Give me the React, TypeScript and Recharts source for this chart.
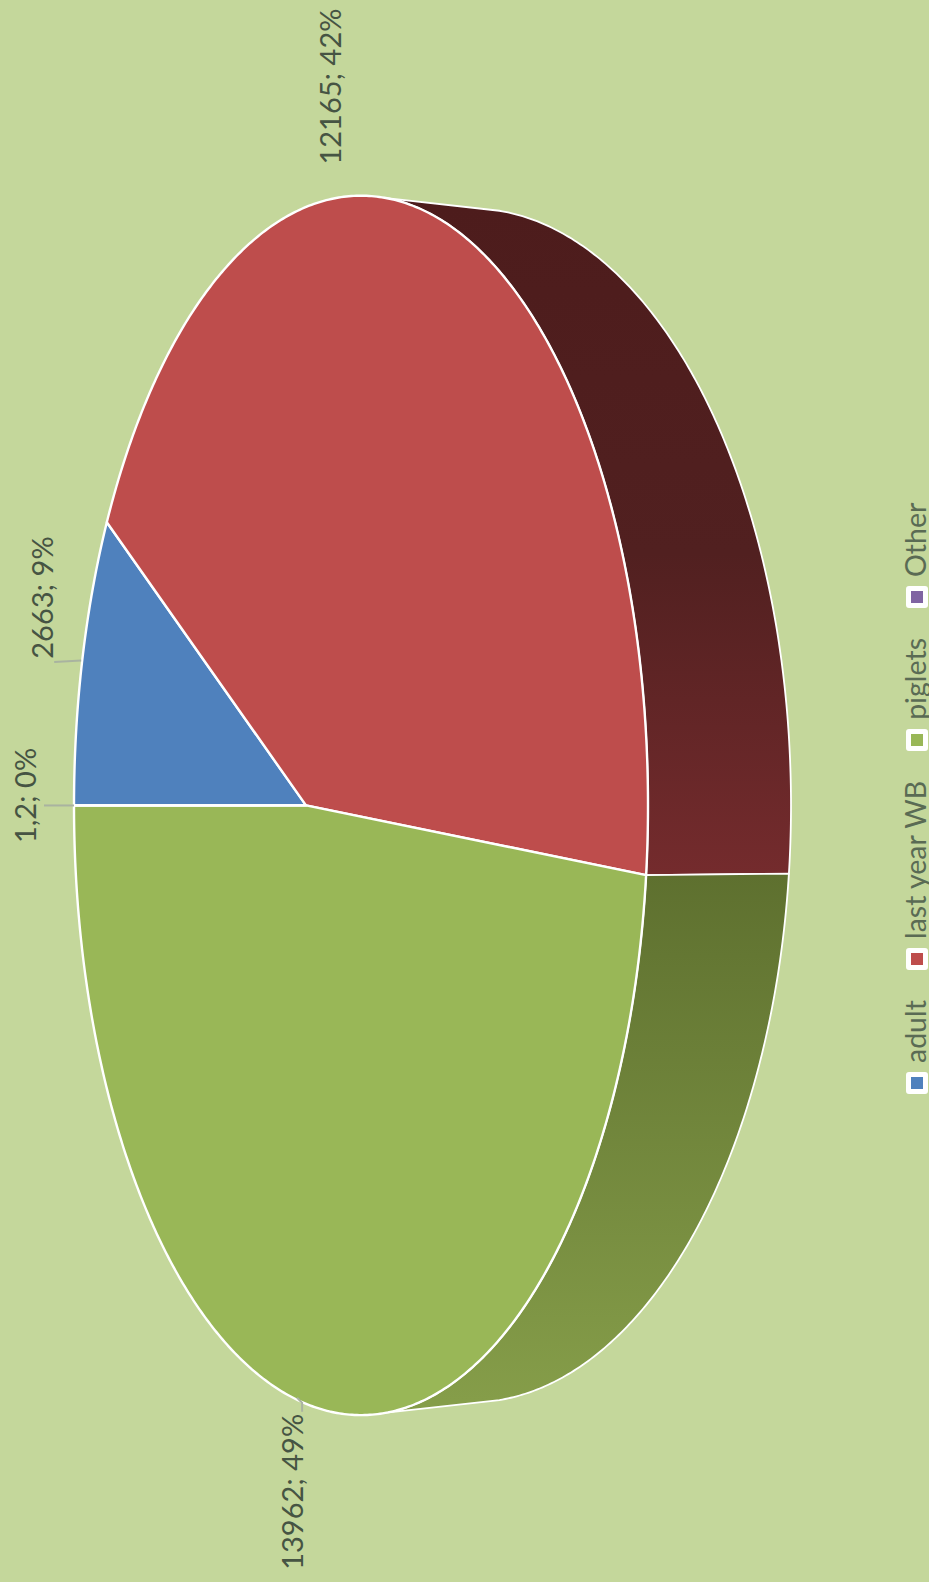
import React from 'react';
import { PieChart, Pie, Legend } from 'recharts';

// ---- data ----
const categories = ['adult', 'last year WB', 'piglets', 'Other'];
const values = [2663, 12165, 13962, 1.2];
const sliceLabels = ['2663; 9%', '12165; 42%', '13962; 49%', '1,2; 0%'];
const topColors = ['#4f81bd', '#be4d4c', '#99b757', '#8064a2'];
const sideFills = ['#4f81bd', 'url(#sideRed)', 'url(#sideGreen)', '#8064a2'];

const topRows = categories.map((name, i) => ({ name, value: values[i], fill: topColors[i] }));
const sideRows = categories.map((name, i) => ({ name, value: values[i], fill: sideFills[i] }));

// ---- layout: label offsets from each slice's rim point (px) ----
const labelOffsets = [
  { dx: -29, dy: -63, line: [[-1, 0], [-28, 1.5]] },
  { dx: -63, dy: -116, line: [] },
  { dx: 10, dy: 94, line: [[4, 0], [9, 5], [9, 14]] },
  { dx: -38, dy: -10, line: [[0, 0], [-30, 0]] },
];

const W = 929;
const H = 1582;
const TOP = { cx: 361, cy: 805.4, rx: 287, ry: 609.7 };
const BACK = { cx: 471, cy: 805.4, rx: 320, ry: 597 };
const PERSPECTIVE = -0.1916;
const SIDE_LIMIT = 74; // degrees: silhouette of the cylinder

// Projects a pie angle (recharts degrees) onto an ellipse, keeping the perspective of the tilted disc.
function project(angle: number, e: typeof TOP) {
  const rad = (angle * Math.PI) / 180;
  const u = Math.cos(rad);
  const v = -Math.sin(rad);
  const p = PERSPECTIVE;
  const d = 1 + p * u;
  return {
    x: e.cx + (e.rx * (u + p)) / d,
    y: e.cy + (e.ry * v * Math.sqrt(1 - p * p)) / d,
  };
}

function arc(start: number, end: number, e: typeof TOP) {
  const n = Math.max(1, Math.ceil(Math.abs(end - start) * 2));
  const pts: { x: number; y: number }[] = [];
  for (let i = 0; i <= n; i++) pts.push(project(start + ((end - start) * i) / n, e));
  return pts;
}

const toPath = (pts: { x: number; y: number }[]) =>
  pts.map((p, i) => `${i ? 'L' : 'M'}${p.x.toFixed(2)},${p.y.toFixed(2)}`).join(' ');

function TopSlice(props: any) {
  const { startAngle, endAngle, fill } = props;
  const centre = { x: TOP.cx + TOP.rx * PERSPECTIVE, y: TOP.cy };
  const d = `${toPath([centre, ...arc(startAngle, endAngle, TOP)])} Z`;
  return <path d={d} fill={fill} stroke="#ffffff" strokeWidth={2.4} strokeLinejoin="round" />;
}

function SideSlice(props: any) {
  const { startAngle, endAngle, fill } = props;
  const s = Math.min(startAngle, SIDE_LIMIT);
  const e = Math.max(endAngle, -SIDE_LIMIT);
  if (s <= e) return <g />;
  const d = `${toPath([...arc(s, e, TOP), ...arc(e, s, BACK)])} Z`;
  return <path d={d} fill={fill} stroke="#ffffff" strokeWidth={1.8} strokeLinejoin="round" />;
}

function SliceLabel(props: any) {
  const { midAngle, index } = props;
  const a = project(midAngle, TOP);
  const o = labelOffsets[index];
  const x = a.x + o.dx;
  const y = a.y + o.dy;
  return (
    <g>
      {o.line.length > 0 && (
        <polyline
          points={o.line.map(([lx, ly]) => `${a.x + lx},${a.y + ly}`).join(' ')}
          fill="none"
          stroke="#a9b3a0"
          strokeWidth={2}
        />
      )}
      <text
        x={x}
        y={y}
        textAnchor="middle"
        transform={`rotate(-90 ${x} ${y})`}
        fontFamily="Lato, sans-serif"
        fontSize={29}
        fill="#465443"
      >
        {sliceLabels[index]}
      </text>
    </g>
  );
}

function RotatedLegend(props: any) {
  const { payload = [] } = props;
  const rows = categories.map((name, i) => {
    const hit = payload.find((p: any) => p.value === name && !String(p.color).startsWith('url'));
    return { value: name, color: hit ? hit.color : topColors[i] };
  });
  return (
    <div
      style={{
        position: 'absolute',
        left: 0,
        top: 0,
        height: 24,
        display: 'flex',
        alignItems: 'center',
        whiteSpace: 'nowrap',
        transformOrigin: '0 0',
        transform: 'rotate(-90deg)',
        fontFamily: 'Lato, sans-serif',
        fontSize: 28.5,
        color: '#5a6b54',
      }}
    >
      {rows.map((entry: any) => (
        <div key={entry.value} style={{ display: 'flex', alignItems: 'center', marginRight: 30 }}>
          <span
            style={{
              display: 'inline-block',
              boxSizing: 'border-box',
              width: 22,
              height: 22,
              border: '5px solid #fff',
              borderRadius: 3,
              background: entry.color,
              marginRight: 9,
            }}
          />
          <span style={{ position: 'relative', top: -2 }}>{entry.value}</span>
        </div>
      ))}
    </div>
  );
}

export default function App() {
  return (
    <div style={{ position: 'absolute', left: 0, top: 0, width: W, height: H, background: '#c4d79b', overflow: 'hidden' }}>
      <PieChart width={W} height={H} margin={{ top: 0, right: 0, bottom: 0, left: 0 }}>
        <defs>
          <linearGradient id="sideRed" gradientUnits="userSpaceOnUse" x1="0" y1="205" x2="0" y2="874">
            <stop offset="0" stopColor="#4d1c1c" />
            <stop offset="0.52" stopColor="#512020" />
            <stop offset="1" stopColor="#742b2d" />
          </linearGradient>
          <linearGradient id="sideGreen" gradientUnits="userSpaceOnUse" x1="0" y1="874" x2="0" y2="1400">
            <stop offset="0" stopColor="#5e702f" />
            <stop offset="1" stopColor="#859d49" />
          </linearGradient>
        </defs>
        <Pie
          data={sideRows}
          dataKey="value"
          nameKey="name"
          cx={TOP.cx}
          cy={TOP.cy}
          outerRadius={TOP.ry}
          startAngle={180}
          endAngle={-180}
          shape={SideSlice}
          legendType="none"
          label={false}
          labelLine={false}
          isAnimationActive={false}
        />
        <Pie
          data={topRows}
          dataKey="value"
          nameKey="name"
          cx={TOP.cx}
          cy={TOP.cy}
          outerRadius={TOP.ry}
          startAngle={180}
          endAngle={-180}
          shape={TopSlice}
          label={SliceLabel}
          labelLine={false}
          isAnimationActive={false}
        />
        <Legend
          content={RotatedLegend}
          itemSorter={null}
          wrapperStyle={{ position: 'absolute', left: 905, top: 1094, width: 24, height: 0, bottom: 'auto' }}
        />
      </PieChart>
    </div>
  );
}
